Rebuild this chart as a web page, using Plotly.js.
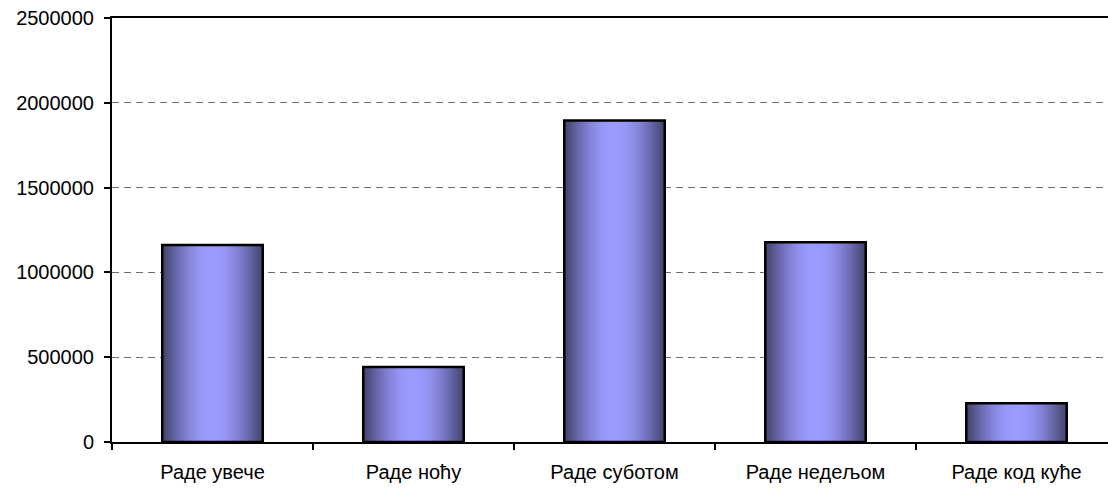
<!DOCTYPE html>
<html>
<head>
<meta charset="utf-8">
<script src="https://cdn.plot.ly/plotly-3.0.1.min.js"></script>
<style>
html,body{margin:0;padding:0;width:1108px;height:488px;overflow:hidden;background:#fff;}
#chart{width:1117px;height:488px;}
</style>
</head>
<body>
<div id="chart"></div>
<script>
var categories = ["Раде увече", "Раде ноћу", "Раде суботом", "Раде недељом", "Раде код куће"];
var values = [1162000, 442000, 1895000, 1178000, 228000];
var yTicks = [0, 500000, 1000000, 1500000, 2000000, 2500000];

var barWidth = 0.5;
var steps = 24;
var edge = [68, 68, 112];
var center = [155, 155, 255];
var traces = [];
for (var i = 0; i < steps; i++) {
  var f = i / (steps - 1);
  var w = barWidth * (1 - f * 0.96);
  var t = Math.sin(f * Math.PI / 2);
  var c = edge.map(function (e, k) { return Math.round(e + (center[k] - e) * t); });
  traces.push({
    type: 'bar', x: categories, y: values, width: w,
    marker: {color: 'rgb(' + c.join(',') + ')', line: {width: 0}},
    hoverinfo: 'skip', showlegend: false
  });
}
traces.push({
  type: 'bar', x: categories, y: values, width: barWidth,
  marker: {color: 'rgba(0,0,0,0)', line: {color: '#000', width: 2.5}},
  showlegend: false
});

var layout = {
  width: 1117, height: 488,
  margin: {l: 112, r: 0, t: 18, b: 46},
  paper_bgcolor: '#fff', plot_bgcolor: '#fff',
  barmode: 'overlay',
  font: {family: '"Liberation Sans", Arial, sans-serif', size: 20, color: '#000'},
  xaxis: {
    type: 'category', range: [-0.5, 4.5],
    showline: true, linecolor: '#000', linewidth: 2, mirror: true,
    ticks: 'outside', tickson: 'boundaries', ticklen: 6, tickwidth: 2, tickcolor: '#000',
    ticklabelstandoff: 11,
    showgrid: false, zeroline: false, fixedrange: true,
    tickfont: {size: 20}
  },
  yaxis: {
    range: [0, 2500000], tickvals: yTicks, ticktext: yTicks.map(String),
    showline: true, linecolor: '#000', linewidth: 2, mirror: true,
    ticks: 'outside', ticklen: 6, tickwidth: 2, tickcolor: '#000',
    ticklabelstandoff: 6,
    showgrid: true, gridcolor: '#6e6e6e', gridwidth: 1, griddash: '7px,5px',
    zeroline: false, fixedrange: true,
    tickfont: {size: 20}
  }
};
Plotly.newPlot('chart', traces, layout, {displayModeBar: false, staticPlot: true});
</script>
</body>
</html>
